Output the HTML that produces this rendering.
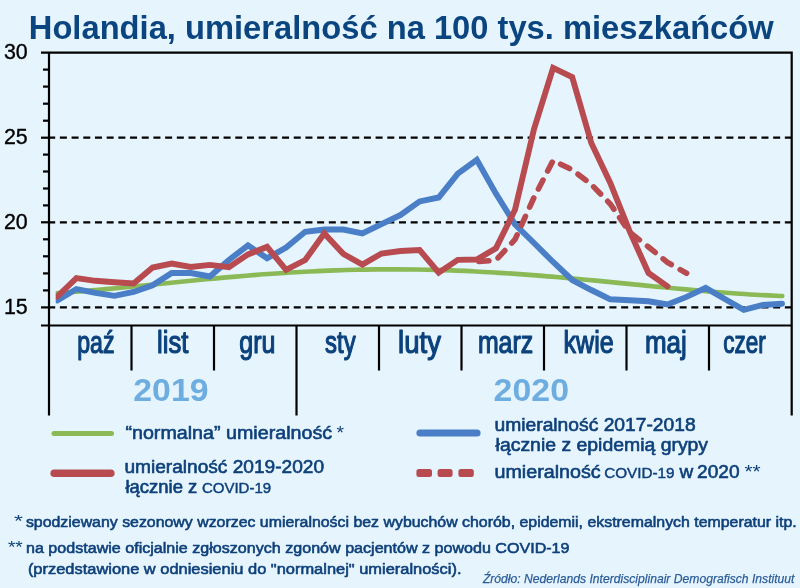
<!DOCTYPE html>
<html><head><meta charset="utf-8"><style>
html,body{margin:0;padding:0;background:#E5F4FD;}
svg{display:block;will-change:transform;font-family:"Liberation Sans", sans-serif;}
</style></head><body>
<svg width="800" height="588" viewBox="0 0 800 588">
<rect width="800" height="588" fill="#E5F4FD"/>
<g stroke="#000" stroke-width="2.2" fill="none">
<path d="M41,52.6 H791.7 V415.5"/>
<path d="M49.0,52.6 V415.5"/>
<path d="M41,325.5 H791.7"/>
<path d="M43,290.4 H49.0"/>
<path d="M43,273.4 H49.0"/>
<path d="M43,256.3 H49.0"/>
<path d="M43,239.3 H49.0"/>
<path d="M43,205.4 H49.0"/>
<path d="M43,188.5 H49.0"/>
<path d="M43,171.5 H49.0"/>
<path d="M43,154.6 H49.0"/>
<path d="M43,120.7 H49.0"/>
<path d="M43,103.7 H49.0"/>
<path d="M43,86.6 H49.0"/>
<path d="M43,69.6 H49.0"/>
<path d="M41,137.7 H49.0"/>
<path d="M41,222.3 H49.0"/>
<path d="M41,307.4 H49.0"/>
<path d="M131.5,325.5 V370.5"/>
<path d="M214.0,325.5 V370.5"/>
<path d="M296.5,325.5 V415.5"/>
<path d="M379.0,325.5 V370.5"/>
<path d="M461.5,325.5 V370.5"/>
<path d="M544.0,325.5 V370.5"/>
<path d="M626.5,325.5 V370.5"/>
<path d="M709.0,325.5 V370.5"/>
</g>
<g stroke="#000" stroke-width="2.2" stroke-dasharray="7 4.693" fill="none">
<path d="M48.2,137.7 H791.7"/>
<path d="M48.2,222.3 H791.7"/>
<path d="M48.2,307.4 H791.7"/>
</g>
<defs><clipPath id="cl"><rect x="55.7" y="40" width="740" height="290"/></clipPath></defs>
<g clip-path="url(#cl)">
<path d="M56.0,293.2 C59.3,292.9 69.3,292.2 76.0,291.7 C82.7,291.2 89.3,290.6 96.0,290.0 C102.7,289.4 109.3,288.8 116.0,288.2 C122.7,287.5 129.3,286.9 136.0,286.2 C142.7,285.5 149.3,284.9 156.0,284.2 C162.7,283.5 169.3,282.9 176.0,282.2 C182.7,281.5 189.3,280.9 196.0,280.2 C202.7,279.6 209.3,279.0 216.0,278.4 C222.7,277.7 229.3,277.1 236.0,276.6 C242.7,276.0 249.3,275.5 256.0,274.9 C262.7,274.4 269.3,273.9 276.0,273.5 C282.7,273.0 289.3,272.6 296.0,272.2 C302.7,271.8 309.3,271.5 316.0,271.2 C322.7,270.9 329.3,270.6 336.0,270.4 C342.7,270.1 349.3,269.9 356.0,269.8 C362.7,269.6 369.3,269.5 376.0,269.4 C382.7,269.4 389.3,269.3 396.0,269.4 C402.7,269.4 409.3,269.4 416.0,269.5 C422.7,269.6 429.3,269.7 436.0,269.9 C442.7,270.1 449.3,270.3 456.0,270.6 C462.7,270.8 469.3,271.1 476.0,271.5 C482.7,271.8 489.3,272.2 496.0,272.6 C502.7,273.0 509.3,273.4 516.0,273.9 C522.7,274.3 529.3,274.8 536.0,275.4 C542.7,275.9 549.3,276.4 556.0,277.0 C562.7,277.6 569.3,278.2 576.0,278.8 C582.7,279.4 589.3,280.0 596.0,280.6 C602.7,281.3 609.3,281.9 616.0,282.6 C622.7,283.3 629.3,283.9 636.0,284.6 C642.7,285.2 649.3,285.9 656.0,286.6 C662.7,287.2 669.3,287.9 676.0,288.5 C682.7,289.1 689.3,289.7 696.0,290.3 C702.7,290.9 709.3,291.5 716.0,292.0 C722.7,292.6 729.3,293.1 736.0,293.5 C742.7,294.0 749.3,294.4 756.0,294.8 C762.7,295.2 771.6,295.6 776.0,295.8 C780.4,296.0 781.2,296.0 782.3,296.0" fill="none" stroke="#8BB956" stroke-width="4.6" stroke-linecap="round"/>
<polyline points="57.3,300.5 76.4,289.0 95.4,292.8 114.5,295.8 133.6,292.0 152.6,285.3 171.7,273.0 190.8,273.0 209.9,276.5 228.9,260.0 248.0,245.4 267.1,258.3 286.1,247.5 305.2,231.8 324.3,229.5 343.4,229.5 362.4,233.5 381.5,224.2 400.6,214.9 419.6,201.4 438.7,197.5 457.8,173.6 476.8,159.9 495.9,193.6 515.0,224.3 534.0,243.0 553.1,262.0 572.2,280.0 591.3,290.0 610.3,299.3 629.4,300.3 648.5,301.3 667.5,304.4 686.6,296.9 705.7,287.9 724.8,299.0 743.8,309.9 762.9,305.0 782.0,303.7" fill="none" stroke="#4A7EC6" stroke-width="5.9" stroke-linejoin="miter" stroke-linecap="round"/>
<polyline points="57.3,296.5 76.4,278.1 95.4,280.8 114.5,282.2 133.6,283.5 152.6,267.6 171.7,263.5 190.8,266.9 209.9,264.9 228.9,267.3 248.0,254.4 267.1,246.9 286.1,269.9 305.2,260.0 324.3,233.5 343.4,254.0 362.4,264.6 381.5,253.5 400.6,251.0 419.6,250.0 438.7,272.7 457.8,259.9 476.8,259.5 495.9,248.3 515.0,209.8 534.0,129.0 553.1,67.9 572.2,77.2 591.3,143.0 610.3,183.0 629.4,230.7 648.5,273.0 667.5,286.3" fill="none" stroke="#B84B4F" stroke-width="5.9" stroke-linejoin="miter" stroke-linecap="round"/>
<polyline points="476.8,261.6 495.9,260.2 515.0,239.5 534.0,197.5 553.1,160.5 572.2,169.8 591.3,184.4 610.3,204.0 629.4,232.0 648.5,247.0 667.5,262.4 686.6,273.2" fill="none" stroke="#B84B4F" stroke-width="5.6" stroke-dasharray="10 10.18" stroke-dashoffset="18.05" stroke-linecap="round"/>
</g>
<text x="28.8" y="38.7" font-size="32.3" fill="#0B457F" font-weight="bold" font-style="normal" text-anchor="start" textLength="744.9" lengthAdjust="spacingAndGlyphs">Holandia, umieralność na 100 tys. mieszkańców</text>
<text x="3.9" y="58.9" font-size="21.5" fill="#000" font-weight="normal" font-style="normal" text-anchor="start" textLength="23.8" lengthAdjust="spacingAndGlyphs" stroke="#000" stroke-width="0.35" stroke-linejoin="round">30</text>
<text x="3.9" y="144.0" font-size="21.5" fill="#000" font-weight="normal" font-style="normal" text-anchor="start" textLength="23.8" lengthAdjust="spacingAndGlyphs" stroke="#000" stroke-width="0.35" stroke-linejoin="round">25</text>
<text x="3.9" y="228.6" font-size="21.5" fill="#000" font-weight="normal" font-style="normal" text-anchor="start" textLength="23.8" lengthAdjust="spacingAndGlyphs" stroke="#000" stroke-width="0.35" stroke-linejoin="round">20</text>
<text x="3.9" y="313.7" font-size="21.5" fill="#000" font-weight="normal" font-style="normal" text-anchor="start" textLength="23.8" lengthAdjust="spacingAndGlyphs" stroke="#000" stroke-width="0.35" stroke-linejoin="round">15</text>
<text x="77.2" y="352.6" font-size="31.2" fill="#0B427C" font-weight="normal" font-style="normal" text-anchor="start" textLength="37.3" lengthAdjust="spacingAndGlyphs" stroke="#0B427C" stroke-width="1.2" stroke-linejoin="round">paź</text>
<text x="157.1" y="352.6" font-size="31.2" fill="#0B427C" font-weight="normal" font-style="normal" text-anchor="start" textLength="31.3" lengthAdjust="spacingAndGlyphs" stroke="#0B427C" stroke-width="1.2" stroke-linejoin="round">list</text>
<text x="239.3" y="352.6" font-size="31.2" fill="#0B427C" font-weight="normal" font-style="normal" text-anchor="start" textLength="36.1" lengthAdjust="spacingAndGlyphs" stroke="#0B427C" stroke-width="1.2" stroke-linejoin="round">gru</text>
<text x="325.1" y="352.6" font-size="31.2" fill="#0B427C" font-weight="normal" font-style="normal" text-anchor="start" textLength="30.5" lengthAdjust="spacingAndGlyphs" stroke="#0B427C" stroke-width="1.2" stroke-linejoin="round">sty</text>
<text x="398.1" y="352.6" font-size="31.2" fill="#0B427C" font-weight="normal" font-style="normal" text-anchor="start" textLength="42.8" lengthAdjust="spacingAndGlyphs" stroke="#0B427C" stroke-width="1.2" stroke-linejoin="round">luty</text>
<text x="477.9" y="352.6" font-size="31.2" fill="#0B427C" font-weight="normal" font-style="normal" text-anchor="start" textLength="55.3" lengthAdjust="spacingAndGlyphs" stroke="#0B427C" stroke-width="1.2" stroke-linejoin="round">marz</text>
<text x="563.6" y="352.6" font-size="31.2" fill="#0B427C" font-weight="normal" font-style="normal" text-anchor="start" textLength="50.1" lengthAdjust="spacingAndGlyphs" stroke="#0B427C" stroke-width="1.2" stroke-linejoin="round">kwie</text>
<text x="644.9" y="352.6" font-size="31.2" fill="#0B427C" font-weight="normal" font-style="normal" text-anchor="start" textLength="41.8" lengthAdjust="spacingAndGlyphs" stroke="#0B427C" stroke-width="1.2" stroke-linejoin="round">maj</text>
<text x="723.3" y="352.6" font-size="31.2" fill="#0B427C" font-weight="normal" font-style="normal" text-anchor="start" textLength="42.5" lengthAdjust="spacingAndGlyphs" stroke="#0B427C" stroke-width="1.2" stroke-linejoin="round">czer</text>
<text x="133.3" y="400.6" font-size="30.5" fill="#6EADDF" font-weight="bold" font-style="normal" text-anchor="start" textLength="75.2" lengthAdjust="spacingAndGlyphs">2019</text>
<text x="493.6" y="400.6" font-size="30.5" fill="#6EADDF" font-weight="bold" font-style="normal" text-anchor="start" textLength="75.4" lengthAdjust="spacingAndGlyphs">2020</text>
<text x="125.4" y="439.2" font-size="18.0" fill="#0E4079" font-weight="normal" font-style="normal" text-anchor="start" textLength="206.7" lengthAdjust="spacingAndGlyphs" stroke="#0E4079" stroke-width="0.6" stroke-linejoin="round">“normalna” umieralność</text>
<text x="336.5" y="439.2" font-size="18.0" fill="#0E4079" font-weight="normal" font-style="normal" text-anchor="start" textLength="7.5" lengthAdjust="spacingAndGlyphs">*</text>
<text x="124.4" y="472.8" font-size="18.0" fill="#0E4079" font-weight="normal" font-style="normal" text-anchor="start" textLength="199.7" lengthAdjust="spacingAndGlyphs" stroke="#0E4079" stroke-width="0.6" stroke-linejoin="round">umieralność 2019-2020</text>
<text x="125.4" y="492.6" font-size="18.0" fill="#0E4079" font-weight="normal" font-style="normal" text-anchor="start" textLength="71.9" lengthAdjust="spacingAndGlyphs" stroke="#0E4079" stroke-width="0.6" stroke-linejoin="round">łącznie z</text>
<text x="201.9" y="492.8" font-size="15.0" fill="#0E4079" font-weight="normal" font-style="normal" text-anchor="start" textLength="69.3" lengthAdjust="spacingAndGlyphs" stroke="#0E4079" stroke-width="0.45" stroke-linejoin="round">COVID-19</text>
<text x="494.5" y="431.0" font-size="18.0" fill="#0E4079" font-weight="normal" font-style="normal" text-anchor="start" textLength="201.2" lengthAdjust="spacingAndGlyphs" stroke="#0E4079" stroke-width="0.6" stroke-linejoin="round">umieralność 2017-2018</text>
<text x="495.6" y="450.8" font-size="18.0" fill="#0E4079" font-weight="normal" font-style="normal" text-anchor="start" textLength="212.5" lengthAdjust="spacingAndGlyphs" stroke="#0E4079" stroke-width="0.6" stroke-linejoin="round">łącznie z epidemią grypy</text>
<text x="494.5" y="477.6" font-size="18.0" fill="#0E4079" font-weight="normal" font-style="normal" text-anchor="start" textLength="106.2" lengthAdjust="spacingAndGlyphs" stroke="#0E4079" stroke-width="0.6" stroke-linejoin="round">umieralność</text>
<text x="604.2" y="477.8" font-size="15.0" fill="#0E4079" font-weight="normal" font-style="normal" text-anchor="start" textLength="70.4" lengthAdjust="spacingAndGlyphs" stroke="#0E4079" stroke-width="0.45" stroke-linejoin="round">COVID-19</text>
<text x="679.4" y="477.6" font-size="18.0" fill="#0E4079" font-weight="normal" font-style="normal" text-anchor="start" textLength="13.7" lengthAdjust="spacingAndGlyphs" stroke="#0E4079" stroke-width="0.6" stroke-linejoin="round">w</text>
<text x="697.1" y="477.6" font-size="18.8" fill="#0E4079" font-weight="normal" font-style="normal" text-anchor="start" textLength="42.5" lengthAdjust="spacingAndGlyphs" stroke="#0E4079" stroke-width="0.6" stroke-linejoin="round">2020</text>
<text x="744.4" y="477.6" font-size="18.0" fill="#0E4079" font-weight="normal" font-style="normal" text-anchor="start" textLength="16.2" lengthAdjust="spacingAndGlyphs">**</text>
<text x="14.1" y="526.5" font-size="17.0" fill="#0E4079" font-weight="normal" font-style="normal" text-anchor="start" textLength="8.9" lengthAdjust="spacingAndGlyphs">*</text>
<text x="25.9" y="526.5" font-size="15.5" fill="#0E4079" font-weight="normal" font-style="normal" text-anchor="start" textLength="770.8" lengthAdjust="spacingAndGlyphs" stroke="#0E4079" stroke-width="0.6" stroke-linejoin="round">spodziewany sezonowy wzorzec umieralności bez wybuchów chorób, epidemii, ekstremalnych temperatur itp.</text>
<text x="7.9" y="553.0" font-size="17.0" fill="#0E4079" font-weight="normal" font-style="normal" text-anchor="start" textLength="14.9" lengthAdjust="spacingAndGlyphs">**</text>
<text x="26.0" y="553.0" font-size="15.5" fill="#0E4079" font-weight="normal" font-style="normal" text-anchor="start" textLength="543.5" lengthAdjust="spacingAndGlyphs" stroke="#0E4079" stroke-width="0.6" stroke-linejoin="round">na podstawie oficjalnie zgłoszonych zgonów pacjentów z powodu COVID-19</text>
<text x="27.9" y="573.5" font-size="15.5" fill="#0E4079" font-weight="normal" font-style="normal" text-anchor="start" textLength="433.6" lengthAdjust="spacingAndGlyphs" stroke="#0E4079" stroke-width="0.6" stroke-linejoin="round">(przedstawione w odniesieniu do "normalnej" umieralności).</text>
<text x="482.9" y="582.6" font-size="13.3" fill="#2B5C97" font-weight="normal" font-style="italic" text-anchor="start" textLength="311.6" lengthAdjust="spacingAndGlyphs" stroke="#2B5C97" stroke-width="0.25" stroke-linejoin="round">Źródło: Nederlands Interdisciplinair Demografisch Instituut</text>
<line x1="54" y1="433.5" x2="111.5" y2="433.5" stroke="#8BB956" stroke-width="5" stroke-linecap="round"/>
<line x1="54.2" y1="473.2" x2="110.8" y2="473.2" stroke="#B84B4F" stroke-width="7.6" stroke-linecap="round"/>
<line x1="420" y1="433" x2="477" y2="433" stroke="#4A7EC6" stroke-width="7.2" stroke-linecap="round"/>
<rect x="416.4" y="469" width="15.6" height="8" rx="2.5" fill="#B84B4F"/>
<rect x="437.6" y="469" width="15.0" height="8" rx="2.5" fill="#B84B4F"/>
<rect x="458.4" y="469" width="15.4" height="8" rx="2.5" fill="#B84B4F"/>
</svg></body></html>
